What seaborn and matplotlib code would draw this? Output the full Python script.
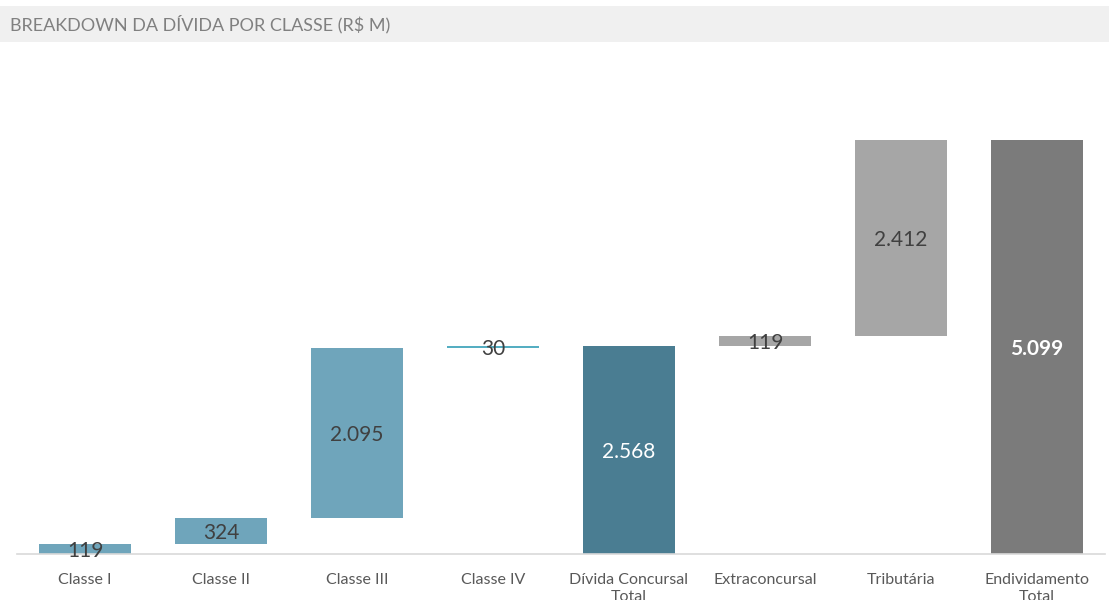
import numpy as np
import pandas as pd
import matplotlib
matplotlib.use("Agg")
import matplotlib.pyplot as plt
import seaborn as sns
from matplotlib.patches import Rectangle

# dados (R$ M)
categorias = ["Classe I", "Classe II", "Classe III", "Classe IV",
              "Dívida Concursal\nTotal", "Extraconcursal", "Tributária",
              "Endividamento\nTotal"]
valores = [119, 324, 2095, 30, 2568, 119, 2412, 5099]
rotulos = ["119", "324", "2.095", "30", "2.568", "119", "2.412", "5.099"]
eh_total = [False, False, False, False, True, False, False, True]

cores = ["#6fa5bb", "#6fa5bb", "#6fa5bb", "#55aec2",
         "#4a7d92", "#a6a6a6", "#a6a6a6", "#7b7b7b"]
cores_texto = ["#404040"] * 4 + ["#ffffff", "#404040", "#404040", "#ffffff"]

# base de cada barra da cascata
bases = []
acum = 0
for v, tot in zip(valores, eh_total):
    if tot:
        bases.append(0)
        acum = v
    else:
        bases.append(acum)
        acum += v

df = pd.DataFrame({"categoria": categorias, "valor": valores, "base": bases})

sns.set_theme(style="white")
plt.rcParams["font.family"] = ["Lato", "DejaVu Sans"]

fig = plt.figure(figsize=(11.09, 6.0), dpi=100)
ax = fig.add_axes([0.0153, 0.0767, 0.9811, 0.8117])

sns.barplot(data=df, x="categoria", y="valor", bottom=df["base"].values,
            color=cores[0], width=0.67, errorbar=None, ax=ax, zorder=2)
for patch, c in zip(ax.patches, cores):
    patch.set_facecolor(c)
    patch.set_edgecolor("none")

for i, (v, b) in enumerate(zip(valores, bases)):
    ax.text(i, b + v / 2, rotulos[i], ha="center", va="center_baseline",
            fontsize=15, color=cores_texto[i], zorder=3,
            fontweight="bold" if i == 7 else "normal")

ax.set_xlim(-0.5, 7.5)
ax.set_ylim(0, 6000)
ax.set_yticks([])
ax.set_xlabel("")
ax.set_ylabel("")
for s in ["top", "right", "left"]:
    ax.spines[s].set_visible(False)
ax.spines["bottom"].set_color("#d9d9d9")
ax.spines["bottom"].set_linewidth(1.2)
ax.tick_params(axis="x", length=0, pad=14, labelsize=11.5, labelcolor="#595959")
for lbl in ax.get_xticklabels():
    lbl.set_verticalalignment("top")
    lbl.set_linespacing(1.25)

# faixa do título
fig.patches.append(Rectangle((0, 0.93), 1, 0.06, transform=fig.transFigure,
                             facecolor="#f0f0f0", edgecolor="none", zorder=0))
fig.text(0.009, 0.96, "BREAKDOWN DA DÍVIDA POR CLASSE (R$ M)", ha="left",
         va="center", fontsize=13, color="#808080")

fig.savefig("out.png", dpi=100)
